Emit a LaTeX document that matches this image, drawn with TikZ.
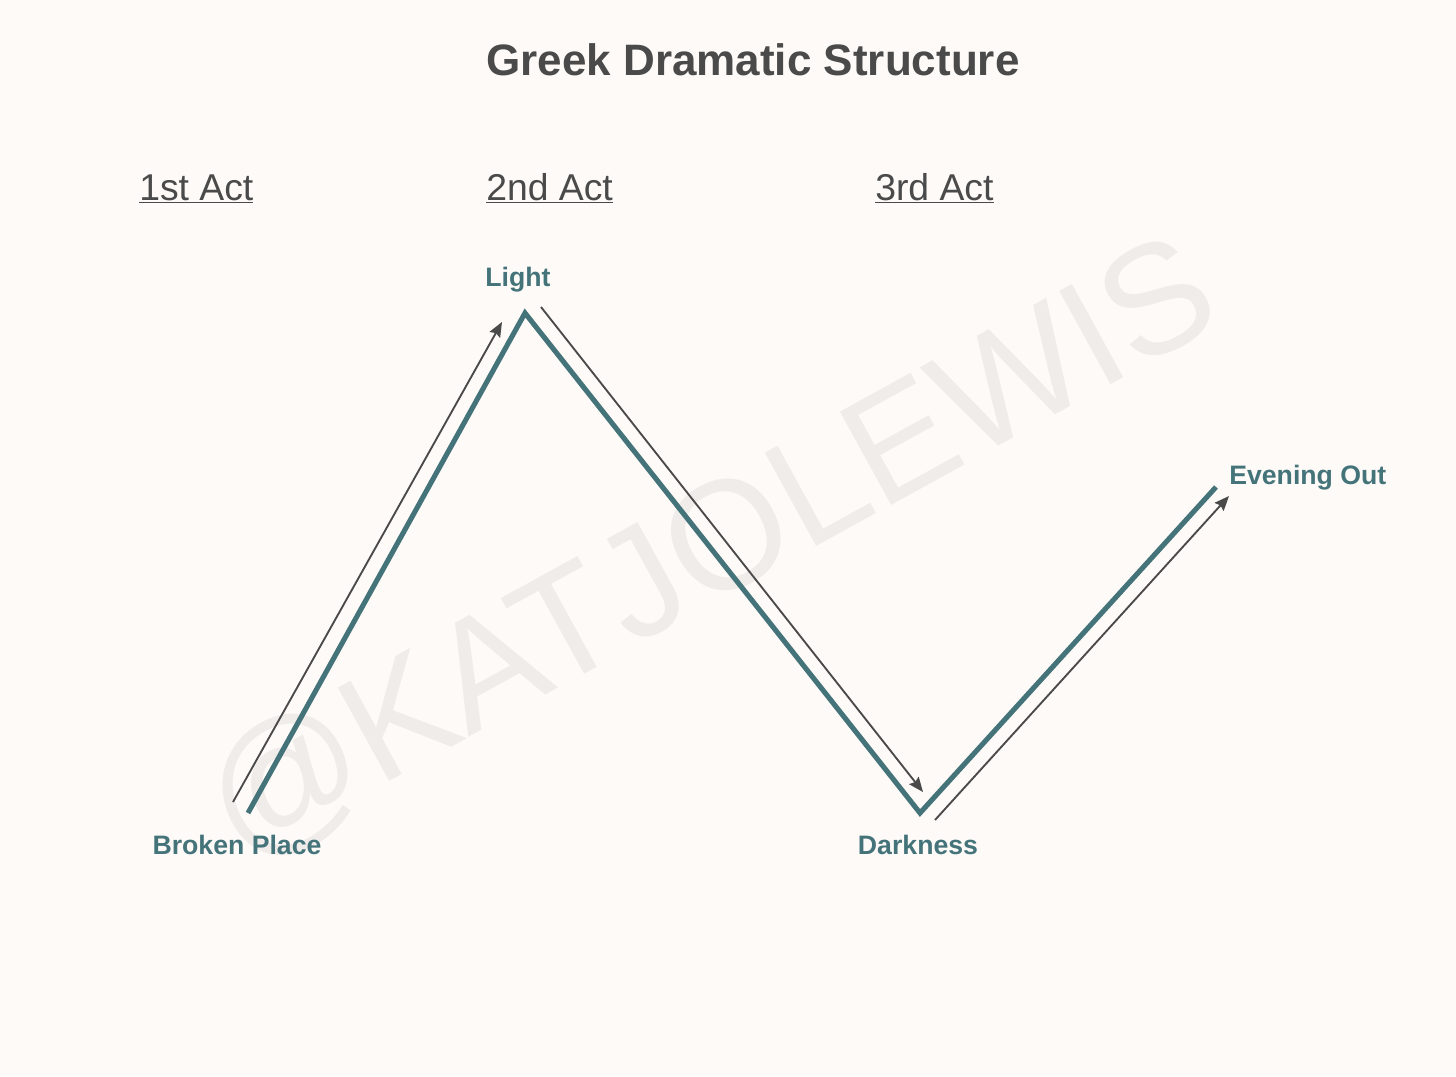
\documentclass[tikz,border=0pt]{standalone}
\usepackage{fontspec}
\setmainfont{Liberation Sans}
\usetikzlibrary{arrows.meta}
\definecolor{bg}{HTML}{FDFAF7}
\definecolor{tl}{HTML}{44737A}
\definecolor{ink}{HTML}{4A4A4A}
\definecolor{wm}{HTML}{EFECEA}
\tikzset{
	plotline/.style={tl, line width=3.8pt, line join=miter},
	guide/.style={ink, line width=1.4pt, -{Stealth[length=11pt,width=9pt,inset=1.5pt]}},
	point/.style={tl, font=\bfseries\fontsize{20}{24}\selectfont, inner sep=0pt},
	act/.style={ink, font=\fontsize{28}{34}\selectfont, inner sep=0pt, anchor=base west}
}

\begin{document}
\begin{tikzpicture}[x=0.75pt, y=-0.75pt]
			\fill[bg] (0,0) rectangle (1456,1076);
			\useasboundingbox (0,0) rectangle (1456,1076);

			\node[wm, rotate=28.8, font=\fontsize{116}{136}\selectfont] (mark) at (712,552) {@KATJOLEWIS};

			\node[ink, font=\bfseries\fontsize{33}{40}\selectfont] (title) at (753,60) {Greek Dramatic Structure};

			\node[act] (act1) at (139,200) {\underline{1st Act}};
			\node[act] (act2) at (486,200) {\underline{2nd Act}};
			\node[act] (act3) at (875,200) {\underline{3rd Act}};

			\coordinate (broken) at (248,813);
			\coordinate (light) at (525,313);
			\coordinate (dark) at (920,813);
			\coordinate (evening) at (1216,487);

			\draw[plotline] (broken) -- (light) -- (dark) -- (evening);

			\coordinate (up0) at (233,802);
			\coordinate (up1) at (502,322);
			\coordinate (dn0) at (541,307);
			\coordinate (dn1) at (923,792);
			\coordinate (rs0) at (935,820);
			\coordinate (rs1) at (1229,496);

			\draw[guide] (up0) -- (up1);
			\draw[guide] (dn0) -- (dn1);
			\draw[guide] (rs0) -- (rs1);

			\node[point] (lbroken) at (237,845) {Broken Place};
			\node[point] (llight) at (518,280) {Light};
			\node[point] (ldark) at (918,845) {Darkness};
			\node[point, anchor=west] (levening) at (1229,478) {Evening Out};

		\end{tikzpicture}
\end{document}
